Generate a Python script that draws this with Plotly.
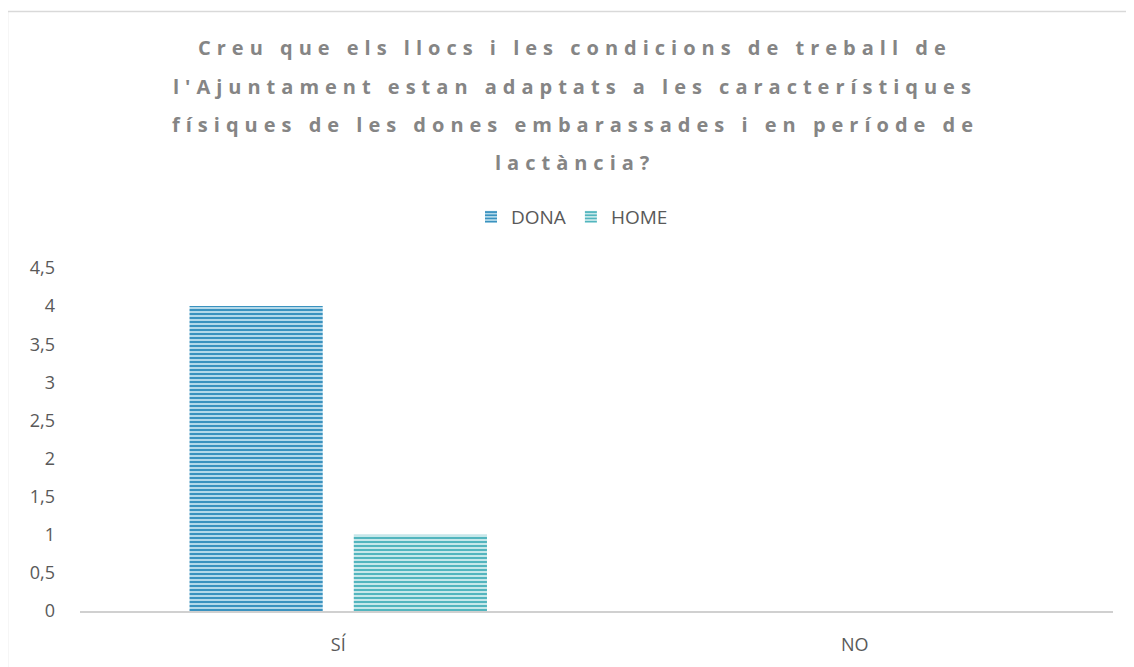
import plotly.graph_objects as go

categories = ["SÍ", "NO"]
dona_values = [4, 0]
home_values = [1, 0]
y_ticks = [0, 0.5, 1, 1.5, 2, 2.5, 3, 3.5, 4, 4.5]
title_lines = [
    "Creu que els llocs i les condicions de treball de",
    "l'Ajuntament estan adaptats a les característiques",
    "físiques de les dones embarassades i en període de",
    "lactància?",
]

# page body has an 8px margin: figure coordinates = screen coordinates - 8
OFF = 8
W, H = 1126, 659
L, R, T, B = 80 - OFF, 1113 - OFF, 268 - OFF, 611 - OFF
pw, ph = R - L, B - T

def px_x(px):
    return (px - OFF - L) / pw

def px_y(py):
    return (B - (py - OFF)) / ph

fig = go.Figure()
fig.add_trace(go.Bar(
    name="DONA", x=categories, y=dona_values,
    marker=dict(color="#3d95c1", line=dict(width=0),
                pattern=dict(shape="-", size=4, solidity=0.5,
                             fgcolor="#3a92bf", bgcolor="#b3d9ea", fillmode="replace")),
))
fig.add_trace(go.Bar(
    name="HOME", x=categories, y=home_values,
    marker=dict(color="#52b6bf", line=dict(width=0),
                pattern=dict(shape="-", size=4, solidity=0.5,
                             fgcolor="#52b5be", bgcolor="#c6e8ea", fillmode="replace")),
))

annotations = []
for line, py in zip(title_lines, [48, 86, 124, 162]):
    annotations.append(dict(
        text=line, xref="paper", yref="paper", x=px_x(575), y=px_y(py),
        xanchor="center", yanchor="middle", showarrow=False,
        font=dict(family="Open Sans", size=20, color="#858585", weight="bold"),
    ))

fig.update_layout(
    width=W, height=H,
    margin=dict(l=L, r=W - R, t=T, b=H - B, pad=0),
    paper_bgcolor="white", plot_bgcolor="white",
    separators=", ",
    barmode="group", bargap=0.364, bargroupgap=0.189,
    showlegend=True,
    legend=dict(orientation="h", x=px_x(572), xanchor="center", y=px_y(217), yanchor="middle",
                font=dict(family="Open Sans", size=19, color="#595959"),
                itemwidth=30, tracegroupgap=0),
    annotations=annotations,
    shapes=[dict(type="rect", xref="paper", yref="paper",
                 x0=px_x(7.5), x1=px_x(1133.5), y0=px_y(668), y1=px_y(11.5),
                 line=dict(color="#d9d9d9", width=1.5), fillcolor="rgba(0,0,0,0)", layer="below")],
    xaxis=dict(showgrid=False, showline=True, linecolor="#d0d0d0", linewidth=2,
               ticks="", tickfont=dict(family="Open Sans", size=18, color="#595959"),
               ticklabelstandoff=16),
    yaxis=dict(range=[0, 4.5], tickvals=y_ticks, showgrid=False, zeroline=False,
               showline=False, ticks="",
               tickfont=dict(family="Open Sans", size=18, color="#595959"),
               ticklabelstandoff=24),
    font=dict(family="Open Sans"),
)

post = """
document.querySelectorAll('.annotation-text').forEach(function(e){e.style.letterSpacing='6px';});
"""
fig.write_html("out.html", post_script=post)
